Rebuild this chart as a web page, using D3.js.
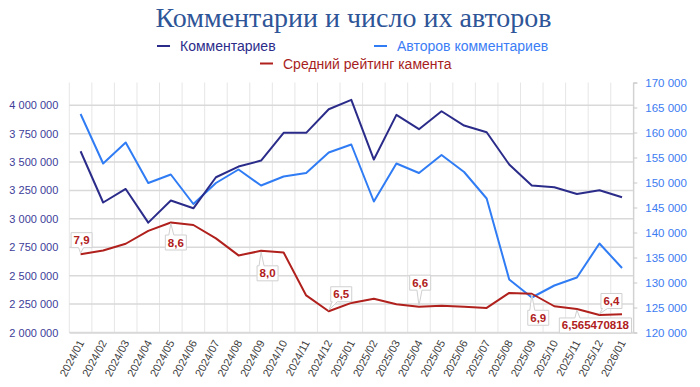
<!DOCTYPE html>
<html><head><meta charset="utf-8">
<script src="https://cdn.jsdelivr.net/npm/d3@7"></script>
<style>
html,body{margin:0;padding:0;background:#fff;}
svg{display:block;}
</style></head>
<body><svg id="c" width="700" height="387"></svg>
<script>
const months = ["2024/01","2024/02","2024/03","2024/04","2024/05","2024/06","2024/07","2024/08","2024/09","2024/10","2024/11","2024/12",
"2025/01","2025/02","2025/03","2025/04","2025/05","2025/06","2025/07","2025/08","2025/09","2025/10","2025/11","2025/12","2026/01"];
const comments = [3595000,3144000,3263000,2967000,3161000,3093000,3366000,3460000,3513000,3757000,3757000,3965000,
4047000,3522000,3915000,3789000,3947000,3821000,3762000,3478000,3293000,3278000,3219000,3252000,3190000];
const authors = [163700,153800,158000,149900,151600,145700,149900,152600,149400,151200,151900,156000,
157600,146200,153800,151900,155500,152100,146800,130600,127000,129400,131000,137800,132900];
const rating = [7.88,7.97,8.13,8.44,8.64,8.58,8.26,7.85,7.96,7.92,6.89,6.51,
6.71,6.81,6.68,6.62,6.64,6.62,6.59,6.95,6.93,6.63,6.565470818,6.42,6.44];
const leftTicks = [2000000,2250000,2500000,2750000,3000000,3250000,3500000,3750000,4000000];
const rightTicks = [120000,125000,130000,135000,140000,145000,150000,155000,160000,165000,170000];
const labeledIdx = [0,4,8,11,15,20,22,23];
const seriesNames = ["Комментариев","Авторов комментариев","Средний рейтинг камента"];
const title = "Комментарии и число их авторов";

const C_NAVY="#2B2C8A", C_BLUE="#2F7CF4", C_RED="#B0201C";
const loc = d3.formatLocale({decimal:",", thousands:" ", grouping:[3], currency:["",""]});
const fmt = loc.format(",d");

const svg = d3.select("#c");
const pTop=82.5, pBottom=332.5, pLeft=69.3, pRight=633.3;

const x = d3.scaleBand().domain(months).range([pLeft,pRight]);
const cx = m => x(m)+x.bandwidth()/2;
const yL = d3.scaleLinear().domain([2000000,4200000]).range([pBottom,pTop]);
const yR = d3.scaleLinear().domain([120000,170000]).range([pBottom,pTop]);
const yS = d3.scaleLinear().domain([6,12]).range([pBottom,pTop]);

// title
svg.append("text").attr("x",353.5).attr("y",27).attr("text-anchor","middle")
  .attr("font-family","Liberation Serif, serif").attr("font-size",28).attr("fill","#2E5597").text(title);

// legend
const leg = [
  {name:seriesNames[0], color:C_NAVY, tcolor:C_NAVY, x:157, y:46},
  {name:seriesNames[1], color:C_BLUE, tcolor:"#3B7DF5", x:374, y:46},
  {name:seriesNames[2], color:C_RED, tcolor:"#A81E1E", x:260, y:63.5}
];
leg.forEach(l=>{
  svg.append("line").attr("x1",l.x).attr("x2",l.x+13).attr("y1",l.y).attr("y2",l.y).attr("stroke",l.color).attr("stroke-width",2);
  svg.append("text").attr("x",l.x+23).attr("y",l.y+5).attr("font-family","Liberation Sans, Arial, sans-serif")
    .attr("font-size",14).attr("fill",l.tcolor).text(l.name);
});

// vertical gridlines
const g = svg.append("g");
g.selectAll("line.v").data(months.concat(["end"])).enter().append("line")
  .attr("x1",(d,i)=>pLeft+i*x.step()).attr("x2",(d,i)=>pLeft+i*x.step())
  .attr("y1",pTop).attr("y2",pBottom).attr("stroke","#E6E6E6").attr("stroke-width",1);
// horizontal gridlines
g.selectAll("line.h").data(leftTicks).enter().append("line")
  .attr("x1",pLeft).attr("x2",pRight).attr("y1",d=>yL(d)).attr("y2",d=>yL(d))
  .attr("stroke","#D9D9D9").attr("stroke-width",1.5);

// left axis
const la = svg.append("g").attr("transform",`translate(${pLeft},0)`)
  .call(d3.axisLeft(yL).tickValues(leftTicks).tickFormat(fmt).tickSize(0).tickPadding(11));
la.select(".domain").remove();
la.selectAll("text").attr("fill","#3D3D99").attr("font-family","Liberation Sans, Arial, sans-serif").attr("font-size",11);

// right axis
const ra = svg.append("g").attr("transform",`translate(${pRight},0)`)
  .call(d3.axisRight(yR).tickValues(rightTicks).tickFormat(fmt).tickSize(4).tickPadding(8));
ra.select(".domain").attr("stroke","#C8C8C8");
ra.selectAll(".tick line").attr("stroke","#C8C8C8");
ra.selectAll("text").attr("fill","#3C7CF2").attr("font-family","Liberation Sans, Arial, sans-serif").attr("font-size",11.5);

// x axis
const xa = svg.append("g").attr("transform",`translate(0,${pBottom})`)
  .call(d3.axisBottom(x).tickSize(0).tickPadding(0));
xa.select(".domain").attr("stroke","#D9D9D9").attr("stroke-width",1.5);
xa.selectAll("text").attr("fill","#404040").attr("font-family","Liberation Sans, Arial, sans-serif").attr("font-size",11)
  .attr("text-anchor","end").attr("dy",0).attr("transform","translate(4,10) rotate(-62)");

// lines
const mk = (vals, ys) => d3.line().x((d,i)=>cx(months[i])).y(d=>ys(d))(vals);
svg.append("path").attr("d",mk(authors,yR)).attr("fill","none").attr("stroke",C_BLUE).attr("stroke-width",2).attr("stroke-linejoin","round");
svg.append("path").attr("d",mk(comments,yL)).attr("fill","none").attr("stroke",C_NAVY).attr("stroke-width",2).attr("stroke-linejoin","round");
svg.append("path").attr("d",mk(rating,yS)).attr("fill","none").attr("stroke",C_RED).attr("stroke-width",2).attr("stroke-linejoin","round");

// callouts
const calloutOffsets = {0:[1,-14],4:[5,20],8:[6.5,22.5],11:[12.5,-17],15:[1.2,-24],20:[6.5,24],22:[18.5,16.5],23:[12,-14]};
labeledIdx.forEach(i=>{
  const v = rating[i];
  const txt = (i===22 ? String(v) : d3.format(".1f")(v)).replace(".",",");
  const px = cx(months[i]), py = yS(v);
  const [dx,dy] = calloutOffsets[i];
  const bx = px+dx, by = py+dy;
  const grp = svg.append("g");
  const path = grp.append("path");
  const t = grp.append("text").attr("x",bx).attr("y",by+4).attr("text-anchor","middle")
    .attr("font-family","Liberation Sans, Arial, sans-serif").attr("font-weight","bold").attr("font-size",11.5)
    .attr("fill","#B0201C").text(txt);
  const w = t.node().getComputedTextLength()+5, h = 15;
  const x0=bx-w/2, x1=bx+w/2, y0=by-h/2, y1=by+h/2;
  let b0 = Math.max(x0+1.5, Math.min(px-2, x1-6.5)), b1=b0+5;
  let d;
  if (py < y0) d = `M${x0},${y0}L${b0},${y0}L${px},${py+1}L${b1},${y0}L${x1},${y0}L${x1},${y1}L${x0},${y1}Z`;
  else d = `M${x0},${y0}L${x1},${y0}L${x1},${y1}L${b1},${y1}L${px},${py-1}L${b0},${y1}L${x0},${y1}Z`;
  path.attr("d",d).attr("fill","#fff").attr("stroke","#D0D0D0").attr("stroke-width",1);
});
</script></body></html>
